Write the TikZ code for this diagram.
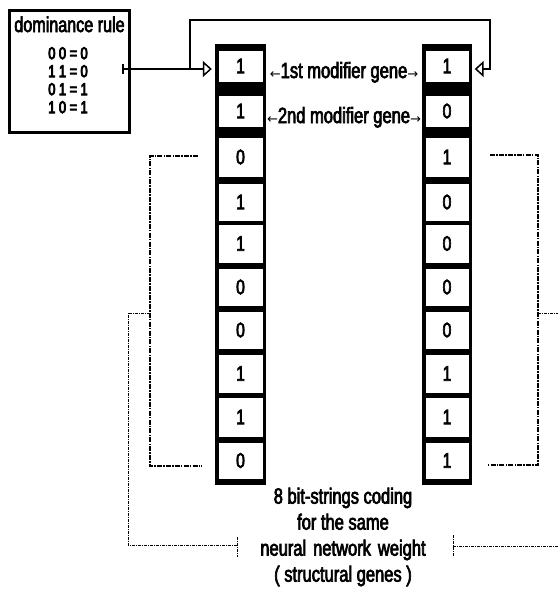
\documentclass[tikz,border=0pt]{standalone}
\usepackage{fontspec}
\setmainfont[FakeStretch=0.75]{Liberation Sans}
\newfontfamily\nf[FakeStretch=0.75,FakeBold=3]{Liberation Sans}
\newfontfamily\nfb[FakeStretch=0.75,FakeBold=5]{Liberation Sans}
\newfontfamily\arrowfont{DejaVu Sans}
\usetikzlibrary{arrows.meta,calc}
\tikzset{
  cellbox/.style={draw=black, fill=white, line width=0.6pt, inner sep=0pt, minimum width=45pt,
    font=\nf\fontsize{21}{21}\selectfont},
  colbox/.style={fill=black, draw=none, inner sep=0pt, minimum width=51pt, minimum height=441pt},
  conn/.style={line width=2.2pt, line cap=butt, line join=miter},
  opentip/.style={-{Triangle[open, length=9pt, width=16pt, line width=1.5pt]}},
  inbr/.style={line width=1.4pt, dash pattern=on 5pt off 1.2pt on 1.5pt off 1.2pt},
  outbr/.style={line width=1pt, dash pattern=on 3pt off 1pt on 1pt off 1pt},
  lbl/.style={inner sep=0pt, font=\nf\fontsize{22}{22}\selectfont},
}
\newcommand{\smarrow}[1]{{\arrowfont\fontsize{13}{13}\selectfont #1}}
\begin{document}
\begin{tikzpicture}[x=1pt,y=-1pt]
\useasboundingbox (0,0) rectangle (558,590);
\fill[white] (0,0) rectangle (558,590);

% columns
\node[colbox] (lcol) at (240.5,264.5) {};
\node[colbox, minimum width=50pt] (rcol) at (447,264.5) {};
\foreach \i/\yc/\h/\a/\b in {1/66/32/1/1, 2/111/32/1/0, 3/157/40/0/1, 4/202/38/1/0,
  5/243.5/39/1/0, 6/287/38/0/0, 7/330/38/0/0, 8/373.5/39/1/1, 9/417/40/1/1, 10/460.5/37/0/1}{
  \node[cellbox, minimum height=\h pt] (l\i) at (240.5,\yc) {\a};
  \node[cellbox, minimum width=44pt, minimum height=\h pt] (r\i) at (447,\yc) {\b};
}

% dominance rule box
\node[draw=black, line width=2.5pt, minimum width=120pt, minimum height=122pt, inner sep=0pt] (dom) at (69.5,71.5) {};
\node[lbl, font=\nf\fontsize{21.5}{21.5}\selectfont, anchor=base] (domtitle) at (69.5,32) {dominance rule};
\node[inner sep=0pt, anchor=north, align=center, font=\nfb\fontsize{17}{18}\selectfont] (rules) at (68,47)
  {0 0 = 0\\1 1 = 0\\0 1 = 1\\1 0 = 1};

% connectors
\coordinate (tail) at (122,69);
\coordinate (br) at (190,69);
\coordinate (topL) at (190,20);
\coordinate (topR) at (490,20);
\coordinate (tr) at (490,69);
\draw[conn, {Bar[width=10pt, line width=2pt]}-{Triangle[open, length=9pt, width=16pt, line width=1.5pt]}, shorten >=3pt]
  (tail) -- (lcol.west |- tail);
\draw[conn, opentip, shorten >=2.5pt] (br) -- (topL) -- (topR) -- (tr) -- (rcol.east |- tr);

% modifier labels
\node[lbl, anchor=base] (m1) at (344,78) {\smarrow{←}1st modifier gene\smarrow{→}};
\node[lbl, anchor=base] (m2) at (344,123) {\smarrow{←}2nd modifier gene\smarrow{→}};

% brackets
\draw[inbr] (198,156) -- (150,156) -- (150,466) -- (202,466);
\draw[outbr] (150,313) -- (128,313) -- (128,545) -- (237,545);
\draw[outbr] (237,537) -- (237,557);
\draw[inbr] (490,155) -- (538,155) -- (538,465) -- (487,465);
\draw[outbr] (538,313) -- (558,313);
\draw[outbr] (453,546) -- (558,546);
\draw[outbr] (453,535) -- (453,557);

% bottom text
\node[lbl, anchor=north, align=center, font=\nf\fontsize{22}{26}\selectfont] (caption) at (343,487.5)
  {8 bit-strings coding\\for the same\\neural\hspace{7pt}network\hspace{7pt}weight\\( structural genes )};
\end{tikzpicture}
\end{document}
